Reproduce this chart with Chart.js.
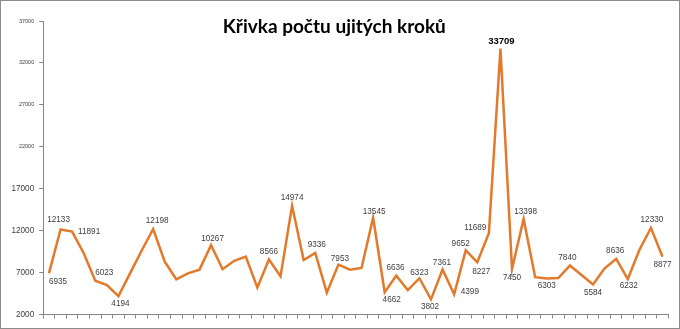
<!DOCTYPE html>
<html>
<head>
<meta charset="utf-8">
<script src="https://cdn.jsdelivr.net/npm/chart.js@4.4.1/dist/chart.umd.min.js"></script>
<style>
  html, body { margin: 0; padding: 0; background: #fff; }
  #frame { width: 678px; height: 327px; border: 1px solid #8c8c8c; }
</style>
</head>
<body>
<div id="frame"><canvas id="stepsChart" width="678" height="327"></canvas></div>
<script>
// ------------------------------------------------------------
// data (one value per day)
// ------------------------------------------------------------
const TITLE = 'Křivka počtu ujitých kroků';
const days = Array.from({length: 54}, (_, i) => String(i + 1));
const steps = [
    6935, 12133, 11891, 9300, 6023, 5500, 4194, 6900, 9600, 12198,
    8300, 6200, 6900, 7350, 10267, 7400, 8400, 8900, 5200, 8566,
    6550, 14974, 8500, 9336, 4600, 7953, 7350, 7550, 13545, 4662,
    6636, 4900, 6323, 3802, 7361, 4399, 9652, 8227, 11689, 33709,
    7450, 13398, 6450, 6303, 6350, 7840, 6700, 5584, 7500, 8636,
    6232, 9700, 12330, 8877,
];
const yTicks = [2000, 7000, 12000, 17000, 22000, 27000, 32000, 37000];

// which points carry a value label, and where it sits relative to the point [dx, dy]
const labelOffsets = {
    0: [9, 9],    1: [-2, -10], 2: [17, 0],   4: [9, -8],   6: [2, 8],
    9: [4, -8],   14: [1.5, -6], 19: [0, -8],  21: [0, -7.5], 23: [1.5, -8],
    25: [1.5, -6], 28: [1, -6],  29: [7, 7.5], 30: [-0.7, -7.5], 32: [0, -6],
    33: [-1, 7],  34: [-0.6, -7], 35: [15.7, -2.6], 36: [-5, -6.6], 37: [4, 9],
    38: [-13.6, -6], 39: [1, -7], 40: [0, 8.5], 41: [2, -7],  43: [0, 7.5],
    45: [-2.5, -7.6], 47: [0, 8], 49: [-1, -8], 50: [1, 7],   52: [1, -8],
    53: [0, 8],
};

const AXIS_GREY = '#868686';
const LINE_ORANGE = '#E2792B';
const peak = Math.max(...steps);

// value labels next to the line
const pointLabels = {
    id: 'pointLabels',
    afterDatasetsDraw(chart) {
        const { ctx } = chart;
        const meta = chart.getDatasetMeta(0);
        ctx.save();
        ctx.textAlign = 'center';
        ctx.textBaseline = 'middle';
        Object.entries(labelOffsets).forEach(([i, [dx, dy]]) => {
            const pt = meta.data[i];
            const v = steps[i];
            if (v === peak) {
                ctx.font = 'bold 9.5px "Liberation Sans", Arial, sans-serif';
                ctx.fillStyle = '#000';
            } else {
                ctx.font = '8.2px "Liberation Sans", Arial, sans-serif';
                ctx.fillStyle = '#404040';
            }
            ctx.fillText(String(v), pt.x + dx, pt.y + dy);
        });
        ctx.restore();
    }
};

// title sits inside the plot area, like the original
const chartTitle = {
    id: 'chartTitle',
    afterDraw(chart) {
        const { ctx } = chart;
        ctx.save();
        ctx.font = 'bold 19px Lato, "Open Sans", sans-serif';
        ctx.fillStyle = '#000';
        ctx.textAlign = 'center';
        ctx.textBaseline = 'alphabetic';
        ctx.fillText(TITLE, 333.3, 31.5);
        ctx.restore();
    }
};

new Chart(document.getElementById('stepsChart'), {
    type: 'line',
    data: {
        labels: days,
        datasets: [{
            label: 'Kroky',
            data: steps,
            borderColor: LINE_ORANGE,
            borderWidth: 2.5,
            pointRadius: 0,
            tension: 0,
            fill: false,
        }],
    },
    options: {
        responsive: false,
        animation: false,
        devicePixelRatio: 1,
        layout: { padding: { top: 20, right: 10.7, left: 0, bottom: 0 } },
        plugins: { legend: { display: false }, title: { display: false }, tooltip: { enabled: false } },
        scales: {
            x: {
                type: 'category',
                offset: true,
                grid: { offset: true, drawOnChartArea: false, drawTicks: true, tickLength: 4, color: AXIS_GREY },
                border: { color: AXIS_GREY, width: 1 },
                ticks: { display: false },
                afterFit(s) { s.height = 13.5; },
            },
            y: {
                min: yTicks[0],
                max: yTicks[yTicks.length - 1],
                afterBuildTicks(s) { s.ticks = yTicks.map(v => ({ value: v })); },
                grid: { drawOnChartArea: false, drawTicks: true, tickLength: 4, color: AXIS_GREY },
                border: { color: AXIS_GREY, width: 1 },
                ticks: {
                    padding: 5,
                    color: '#404040',
                    callback: v => String(v),
                    font: ctx => ({
                        family: '"Liberation Sans", Arial, sans-serif',
                        size: ctx.tick && ctx.tick.value > 17000 ? 5.5 : 8.2,
                    }),
                },
                afterFit(s) { s.width = 42.2; },
            },
        },
    },
    plugins: [pointLabels, chartTitle],
});
</script>
</body>
</html>
